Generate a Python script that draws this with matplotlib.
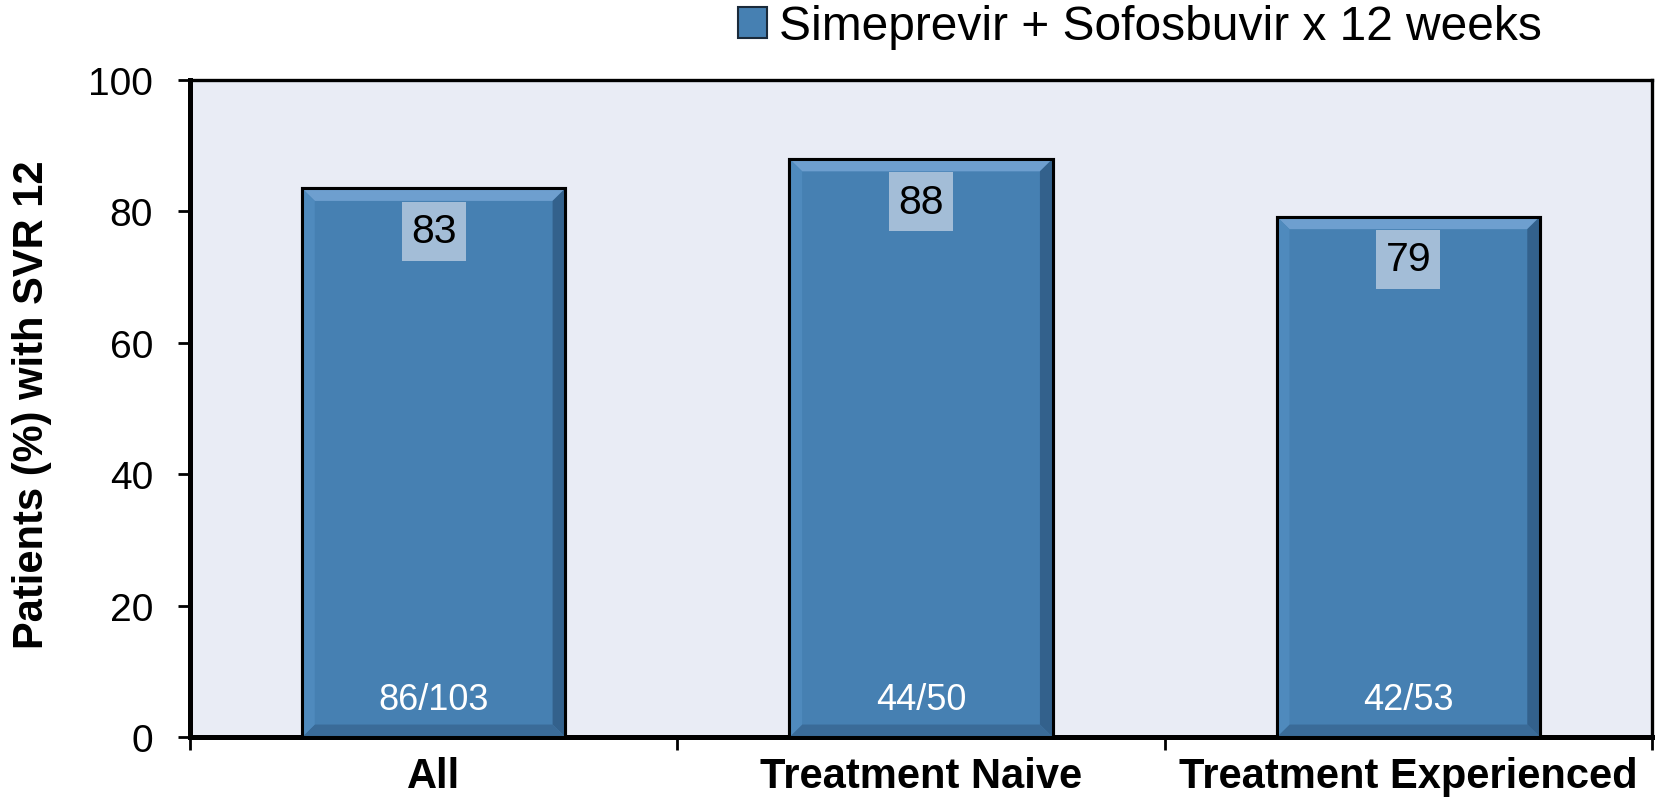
import matplotlib.pyplot as plt
from matplotlib.patches import Polygon, Rectangle, Patch

categories = ["All", "Treatment Naive", "Treatment Experienced"]
svr_pct = [83.5, 88.0, 79.2]          # 86/103, 44/50, 42/53
svr_labels = ["83", "88", "79"]
fractions = ["86/103", "44/50", "42/53"]
series_name = "Simeprevir + Sofosbuvir x 12 weeks"

plt.rcParams['font.family'] = ['Liberation Sans', 'DejaVu Sans']

bar_color = '#4680B2'
box_color = '#A3BDD7'
bg_color = '#E9ECF5'

fig = plt.figure(figsize=(16.58, 8.03), dpi=100)
ax = fig.add_axes([0.1146, 0.0809, 0.8818, 0.8182])
ax.set_facecolor(bg_color)

x = list(range(len(categories)))
width = 0.54
bars = ax.bar(x, svr_pct, width=width, color=bar_color, edgecolor='black',
              linewidth=2.2, zorder=3)

# bevel look on each bar
bx, by = 0.026, 1.9
for xi, v, lab in zip(x, svr_pct, svr_labels):
    x0, x1 = xi - width / 2, xi + width / 2
    faces = [
        ([(x0, v), (x1, v), (x1 - bx, v - by), (x0 + bx, v - by)], '#6E9FCF'),
        ([(x1, v), (x1, 0), (x1 - bx, by), (x1 - bx, v - by)], '#33618C'),
        ([(x0, 0), (x1, 0), (x1 - bx, by), (x0 + bx, by)], '#3A6B98'),
        ([(x0, v), (x0, 0), (x0 + bx, by), (x0 + bx, v - by)], '#4F8ABD'),
    ]
    for pts, c in faces:
        ax.add_patch(Polygon(pts, closed=True, facecolor=c, edgecolor='none', zorder=3.5))
    ax.add_patch(Rectangle((x0, 0), width, v, facecolor='none', edgecolor='black',
                           linewidth=2.2, zorder=4))
    # value label box
    ax.add_patch(Rectangle((xi - 0.0655, v - 11.0), 0.131, 9.0, facecolor=box_color,
                           edgecolor='none', zorder=5))
    ax.text(xi, v - 6.5, lab, ha='center', va='center', fontsize=29.5, zorder=6)

for xi, f in zip(x, fractions):
    ax.text(xi, 5.7, f, ha='center', va='center', fontsize=26, color='white', zorder=6)

ax.set_xlim(-0.5, 2.5)
ax.set_ylim(0, 100)
ax.set_yticks(range(0, 101, 20))
ax.tick_params(axis='y', direction='out', length=8.6, width=2, labelsize=28, pad=18)

ax.set_xticks([-0.5, 0.5, 1.5, 2.5])
ax.set_xticklabels([])
ax.set_xticks(x, minor=True)
ax.set_xticklabels(categories, minor=True, fontsize=30, fontweight='bold')
ax.tick_params(axis='x', which='major', direction='out', length=9, width=2)
ax.tick_params(axis='x', which='minor', length=0, pad=14)

for side in ['left', 'bottom']:
    ax.spines[side].set_linewidth(3.6)
for side in ['top', 'right']:
    ax.spines[side].set_linewidth(2.4)

fig.text(32 / 1658, 0.496, "Patients (%) with SVR 12", rotation=90, ha='center',
         va='center', fontsize=30, fontweight='bold')

handle = Patch(facecolor=bar_color, edgecolor='#1a2a3a', linewidth=1.5)
fig.legend([handle], [series_name], loc='center left',
           bbox_to_anchor=(738 / 1658, 1 - 28 / 803), frameon=False,
           fontsize=34.5, handlelength=0.6, handleheight=0.6, handletextpad=0.25,
           borderpad=0, borderaxespad=0)

fig.savefig('out.png', dpi=100)
